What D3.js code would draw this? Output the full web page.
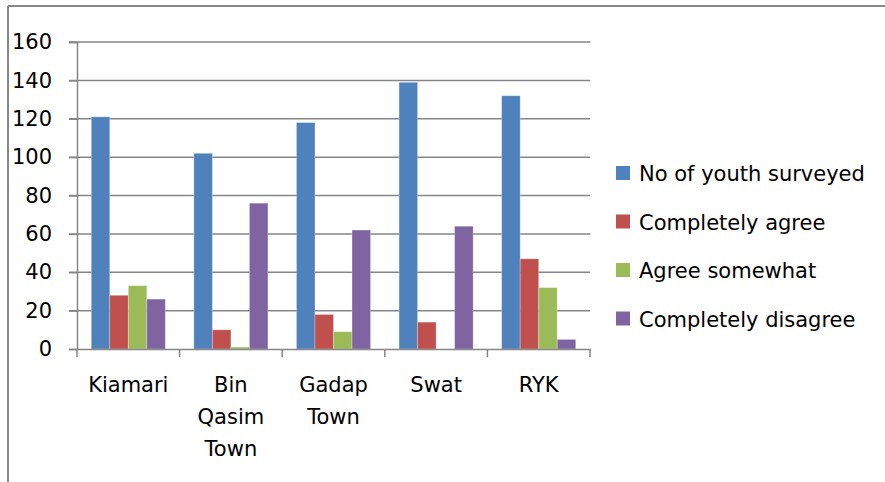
<!DOCTYPE html>
<html>
<head>
<meta charset="utf-8">
<script src="https://cdn.jsdelivr.net/npm/d3@7"></script>
<style>
  body { margin: 0; background: #fff; }
  text { font-family: "DejaVu Sans", sans-serif; fill: #000; }
</style>
</head>
<body>
<svg></svg>
<script>
const [svgWidth, svgHeight] = [885, 482];

const categories = [['Kiamari'], ['Bin', 'Qasim', 'Town'], ['Gadap', 'Town'], ['Swat'], ['RYK']];
const seriesNames = ['No of youth surveyed', 'Completely agree', 'Agree somewhat', 'Completely disagree'];
const seriesColors = ['#4f81bd', '#c0504d', '#9bbb59', '#8064a2'];
const youthSurveyed = [121, 102, 118, 139, 132];
const completelyAgree = [28, 10, 18, 14, 47];
const agreeSomewhat = [33, 1, 9, 0, 32];
const completelyDisagree = [26, 76, 62, 64, 5];
const yTicks = [0, 20, 40, 60, 80, 100, 120, 140, 160];

const seriesValues = [youthSurveyed, completelyAgree, agreeSomewhat, completelyDisagree];
const catKeys = categories.map(c => c.join(' '));
const fontSize = 21;

const svg = d3.select('svg')
  .attr('width', svgWidth)
  .attr('height', svgHeight);

// outer frame (left and top edges visible)
svg.append('line')
  .attr('x1', 8).attr('x2', 8).attr('y1', 6).attr('y2', svgHeight)
  .attr('stroke', '#878787').attr('stroke-width', 2);
svg.append('line')
  .attr('x1', 8).attr('x2', svgWidth).attr('y1', 6).attr('y2', 6)
  .attr('stroke', '#878787').attr('stroke-width', 2);

const plot = {left: 77, right: 590, top: 42, bottom: 349};

const x = d3.scaleBand()
  .domain(catKeys)
  .range([plot.left, plot.right])
  .paddingInner(0)
  .paddingOuter(0);
const xInner = d3.scaleBand()
  .domain(d3.range(seriesNames.length))
  .range([0, x.bandwidth()])
  .paddingOuter(0.77)
  .paddingInner(0);
const y = d3.scaleLinear()
  .domain([0, 160])
  .range([plot.bottom, plot.top]);

// gridlines
svg.append('g')
  .selectAll('line')
  .data(yTicks.filter(t => t > 0))
  .join('line')
  .attr('x1', plot.left - 8)
  .attr('x2', plot.right)
  .attr('y1', d => y(d))
  .attr('y2', d => y(d))
  .attr('stroke', '#868686')
  .attr('stroke-width', 1.5);

// bars
const groups = svg.append('g')
  .selectAll('g')
  .data(catKeys)
  .join('g')
  .attr('transform', d => `translate(${x(d)}, 0)`);
groups.selectAll('rect')
  .data((d, i) => seriesValues.map((vals, s) => ({s, v: vals[i]})))
  .join('rect')
  .attr('x', d => xInner(d.s))
  .attr('width', xInner.bandwidth())
  .attr('y', d => y(d.v))
  .attr('height', d => y(0) - y(d.v))
  .attr('fill', d => seriesColors[d.s])
  .attr('stroke', 'rgba(255,255,255,0.35)')
  .attr('stroke-width', 0.8);

// y axis
const yAxis = svg.append('g')
  .attr('transform', `translate(${plot.left}, 0)`)
  .call(d3.axisLeft(y).tickValues(yTicks).tickSize(8).tickPadding(17));
yAxis.select('.domain').attr('stroke', '#868686').attr('stroke-width', 1.5);
yAxis.selectAll('.tick line').attr('stroke', '#868686').attr('stroke-width', 1.5);
yAxis.selectAll('.tick text')
  .attr('font-size', fontSize)
  .attr('font-family', '"DejaVu Sans", sans-serif')
  .attr('fill', '#000');

// x axis
const xAxis = svg.append('g')
  .attr('transform', `translate(0, ${plot.bottom})`)
  .call(d3.axisBottom(x).tickSize(0).tickFormat(''));
xAxis.select('.domain').attr('stroke', '#868686').attr('stroke-width', 1.5);
xAxis.selectAll('.tick').remove();
xAxis.selectAll('.boundary')
  .data(catKeys.map(k => x(k)).concat([plot.right]))
  .join('line')
  .attr('class', 'boundary')
  .attr('x1', d => d).attr('x2', d => d)
  .attr('y1', 0).attr('y2', 8)
  .attr('stroke', '#868686')
  .attr('stroke-width', 1.5);

const labels = svg.append('g')
  .selectAll('text')
  .data(categories)
  .join('text')
  .attr('text-anchor', 'middle')
  .attr('font-size', fontSize)
  .attr('transform', (d, i) => `translate(${x(catKeys[i]) + x.bandwidth() / 2}, 392)`);
labels.selectAll('tspan')
  .data(d => d)
  .join('tspan')
  .attr('x', 0)
  .attr('y', (d, i) => i * 32)
  .text(d => d);

// legend
const legend = svg.append('g')
  .selectAll('g')
  .data(seriesNames)
  .join('g')
  .attr('transform', (d, i) => `translate(616, ${173 + i * 48.5})`);
legend.append('rect')
  .attr('x', 0).attr('y', -7)
  .attr('width', 14).attr('height', 14)
  .attr('fill', (d, i) => seriesColors[i]);
legend.append('text')
  .attr('x', 23)
  .attr('y', 8)
  .attr('font-size', fontSize)
  .text(d => d);
</script>
</body>
</html>
